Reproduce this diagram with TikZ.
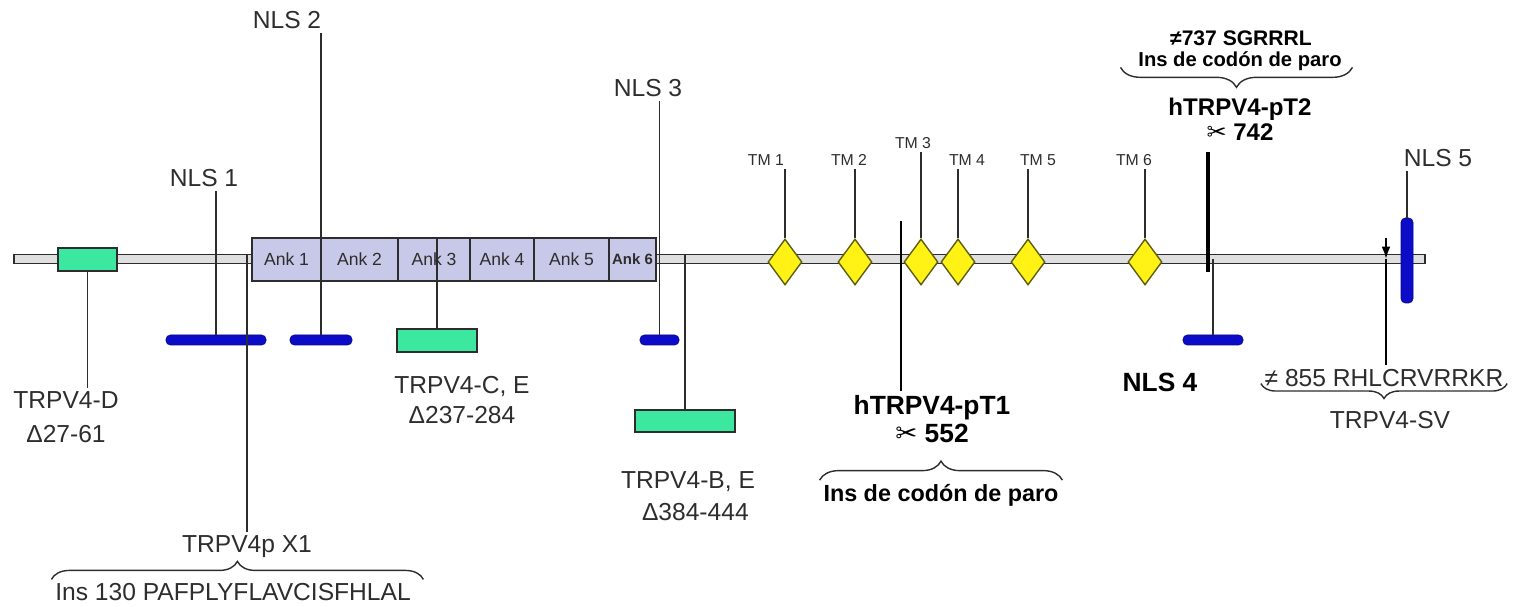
\documentclass[tikz,border=0pt]{standalone}
\usepackage{fontspec}
\setmainfont{Liberation Sans}
\newfontfamily\symfont{DejaVu Sans}
\usepackage{xcolor}
\usepackage{tikz}
\usetikzlibrary{arrows.meta, shapes.geometric, decorations.pathreplacing, calc}

\definecolor{mint}{RGB}{60,232,160}
\definecolor{ankfill}{RGB}{200,200,232}
\definecolor{nlsblue}{RGB}{12,12,200}
\definecolor{tmyellow}{RGB}{255,242,20}
\definecolor{tmedge}{RGB}{95,95,20}
\definecolor{inkgray}{RGB}{45,45,45}

\newcommand{\pxu}{0.02cm}
\newcommand{\cut}{{\symfont ✂}}

\begin{document}
\begin{tikzpicture}[
    x=0.02cm, y=-0.02cm,
    chain/.style={draw=inkgray, line width=1.1pt, fill=gray!25, rectangle, inner sep=0pt, minimum height=9*\pxu},
    delbox/.style={draw=inkgray, line width=0.8pt, fill=mint, rectangle, inner sep=0pt, minimum height=23*\pxu},
    ankbox/.style={draw=inkgray, line width=0.8pt, fill=ankfill, rectangle, inner sep=0pt, minimum height=43*\pxu, font=\fontsize{10}{12}\selectfont, text=inkgray},
    nlsbar/.style={fill=nlsblue, draw=nlsblue!70!black, line width=0.4pt, rectangle, rounded corners=2.5pt, inner sep=0pt, minimum height=10*\pxu},
    tmbox/.style={draw=tmedge, line width=0.8pt, fill=tmyellow, diamond, inner sep=0pt, minimum width=34*\pxu, minimum height=46*\pxu},
    lab/.style={font=\fontsize{14}{19}\selectfont, text=inkgray, inner sep=2pt, align=center},
    boldlab/.style={font=\bfseries\fontsize{15}{16}\selectfont, text=black, inner sep=2pt, align=center},
    tmlab/.style={font=\fontsize{9}{11}\selectfont, text=inkgray, inner sep=2pt},
    stem/.style={draw=inkgray, line width=0.95pt},
    curly/.style={draw=inkgray, line width=0.8pt, decorate}
]
    \useasboundingbox (0,0) rectangle (1518,607);

    % protein backbone and domains
    \node[chain, minimum width=1411*\pxu] (bb) at (719.5,259) {};
    \node[delbox, minimum width=59*\pxu] (delD) at (87.5,259.5) {};
    \node[ankbox, minimum width=69*\pxu] (ank1) at (286.5,259.5) {Ank 1};
    \node[ankbox, minimum width=77*\pxu] (ank2) at (359.5,259.5) {Ank 2};
    \node[ankbox, minimum width=72*\pxu] (ank3) at (434,259.5) {Ank 3};
    \node[ankbox, minimum width=64*\pxu] (ank4) at (502,259.5) {Ank 4};
    \node[ankbox, minimum width=75*\pxu] (ank5) at (571.5,259.5) {Ank 5};
    \node[ankbox, minimum width=47*\pxu, font=\bfseries\fontsize{8.5}{10}\selectfont] (ank6) at (632.5,259.5) {Ank 6};
    \node[delbox, minimum width=80*\pxu] (delCE) at (437,340.5) {};
    \node[delbox, minimum width=100*\pxu, minimum height=22*\pxu] (delBE) at (685,421) {};

    % transmembrane segments
    \node[tmbox] (tm1) at (785,262) {};
    \node[tmbox] (tm2) at (855,262) {};
    \node[tmbox] (tm3) at (921,262) {};
    \node[tmbox] (tm4) at (958,262) {};
    \node[tmbox] (tm5) at (1028,262) {};
    \node[tmbox] (tm6) at (1145,262) {};

    % nuclear localisation signals
    \node[nlsbar, minimum width=100*\pxu] (bar1) at (216,340) {};
    \node[nlsbar, minimum width=62*\pxu] (bar2) at (321,340) {};
    \node[nlsbar, minimum width=39*\pxu] (bar3) at (659.5,340) {};
    \node[nlsbar, minimum width=60*\pxu] (bar4) at (1213,340) {};
    \node[nlsbar, minimum width=12*\pxu, minimum height=85*\pxu] (bar5) at (1407,260.5) {};

    % labels
    \node[lab] (nls1) at (204,178) {NLS 1};
    \node[lab] (nls2) at (287,20) {NLS 2};
    \node[lab] (nls3) at (648,88) {NLS 3};
    \node[boldlab] (nls4) at (1160,382) {NLS 4};
    \node[lab] (nls5) at (1438,158) {NLS 5};
    \node[tmlab] (tm1lab) at (766,160) {TM 1};
    \node[tmlab] (tm2lab) at (849,160) {TM 2};
    \node[tmlab] (tm3lab) at (913,143) {TM 3};
    \node[tmlab] (tm4lab) at (967,160) {TM 4};
    \node[tmlab] (tm5lab) at (1038,160) {TM 5};
    \node[tmlab] (tm6lab) at (1134,160) {TM 6};

    \node[lab] (delDlab) at (66,417) {TRPV4-D\\Δ27-61};
    \node[lab, font=\fontsize{14}{17.6}\selectfont] (delCElab) at (462,400) {TRPV4-C, E\\Δ237-284};
    \node[lab, font=\fontsize{14}{18}\selectfont] (delBElab) at (688,496) {TRPV4-B, E\\\hspace{0.6em}Δ384-444};
    \node[lab] (x1lab) at (247,547) {TRPV4p X1};
    \node[lab] (ins130) at (233,592) {Ins 130 PAFPLYFLAVCISFHLAL};

    \node[boldlab] (pt1lab) at (932,419) {hTRPV4-pT1\\\cut\ 552};
    \node[boldlab, font=\bfseries\fontsize{13.3}{15}\selectfont] (paro1) at (941,495) {Ins de codón de paro};

    \node[boldlab, font=\bfseries\fontsize{12}{14}\selectfont] (sgr) at (1241,38) {≠737 SGRRRL};
    \node[boldlab, font=\bfseries\fontsize{11.5}{13}\selectfont] (paro2) at (1240,61) {Ins de codón de paro};
    \node[boldlab, font=\bfseries\fontsize{13.7}{14.2}\selectfont] (pt2lab) at (1240,119) {hTRPV4-pT2\\\cut\ 742};

    \node[lab] (rhl) at (1384,378) {≠ 855 RHLCRVRRKR};
    \node[lab] (svlab) at (1390,420) {TRPV4-SV};

    % connectors
    \draw[stem] (delD.south) -- (delD.south |- delDlab.north);
    \draw[stem] (bar1.north) -- (bar1.north |- nls1.south);
    \draw[stem] (bar2.north) -- (bar2.north |- nls2.south);
    \draw[stem] (bar3.north) -- (bar3.north |- nls3.south);
    \draw[stem] (delCE.north) -- (delCE.north |- ank3.north);
    \draw[stem] (delBE.north) -- (delBE.north |- bb.north);
    \draw[stem] (x1lab.north) -- (x1lab.north |- bb.north);
    \draw[stem] (tm1.north) -- (tm1.north |- tm1lab.south);
    \draw[stem] (tm2.north) -- (tm2.north |- tm2lab.south);
    \draw[stem] (tm3.north) -- (tm3.north |- tm3lab.south);
    \draw[stem] (tm4.north) -- (tm4.north |- tm4lab.south);
    \draw[stem] (tm5.north) -- (tm5.north |- tm5lab.south);
    \draw[stem] (tm6.north) -- (tm6.north |- tm6lab.south);
    \draw[stem] (bar4.north) -- (bar4.north |- bb.center);
    \draw[stem] (bar5.north) -- (bar5.north |- nls5.south);

    % truncation and splice sites
    \coordinate (pt1top) at (901,221);
    \draw[stem, draw=black, line width=1.3pt] (pt1top) -- (pt1top |- pt1lab.north);
    \coordinate (pt2top) at (1208,152);
    \coordinate (pt2bot) at (1208,272);
    \draw[draw=black, line width=2.5pt] (pt2top) -- (pt2bot);
    \coordinate (svtop) at (1386,238);
    \draw[stem, draw=black, line width=1.1pt, -{Latex[length=7pt, width=5pt]}] (svtop) -- (svtop |- bb.center);
    \draw[stem, draw=black, line width=1.1pt] (svtop |- bb.center) -- (svtop |- rhl.north);

    % braces
    \draw[curly, decoration={brace, amplitude=0.36cm}] (ins130.north west) -- ([xshift=5pt]ins130.north east);
    \draw[curly, decoration={brace, amplitude=0.38cm}] (paro1.north west) -- (paro1.north east);
    \draw[curly, decoration={brace, amplitude=0.4cm}] ([xshift=4pt, yshift=4pt]paro2.south east) -- ([xshift=-8pt, yshift=4pt]paro2.south west);
    \draw[curly, decoration={brace, amplitude=0.3cm}] ([yshift=4pt]rhl.south east) -- ([yshift=4pt]rhl.south west);
\end{tikzpicture}
\end{document}
